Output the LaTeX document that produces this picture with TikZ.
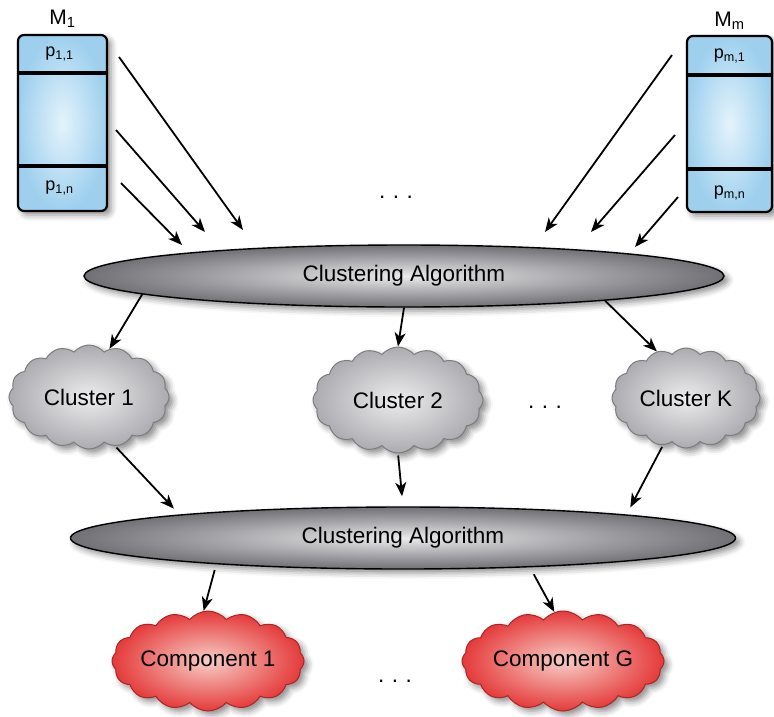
\documentclass[tikz,border=0pt]{standalone}
\usepackage{fontspec}
\setmainfont{Liberation Sans}
\usepackage{xcolor}
\usepackage{tikz}
\usetikzlibrary{arrows.meta,positioning,shapes.geometric,shapes.symbols,shadows.blur,calc}
\definecolor{boxin}{RGB}{228,243,252}
\definecolor{boxout}{RGB}{158,208,238}
\definecolor{algin}{RGB}{234,234,236}
\definecolor{algout}{RGB}{112,112,117}
\definecolor{cloudin}{RGB}{236,236,238}
\definecolor{cloudout}{RGB}{172,172,176}
\definecolor{cloudline}{RGB}{125,125,128}
\definecolor{compin}{RGB}{248,205,198}
\definecolor{compout}{RGB}{228,58,58}
\definecolor{compline}{RGB}{175,35,35}
\tikzset{
  txt/.style={font=\fontsize{22.5}{26}\selectfont},
  soft/.style={blur shadow={shadow xshift=4pt, shadow yshift=-4pt, shadow blur radius=6pt, shadow opacity=45}},
  mbox/.style={draw, line width=2.2pt, rounded corners=6pt, inner color=boxin, outer color=boxout, soft},
  mlbl/.style={font=\fontsize{21}{24}\selectfont, inner sep=1pt},
  plbl/.style={font=\fontsize{18}{21}\selectfont, inner sep=1pt},
  divider/.style={line width=3.4pt},
  algo/.style={ellipse, draw, line width=1.4pt, inner color=algin, outer color=algout, txt, soft},
  clust/.style={cloud, cloud puffs=16, cloud puff arc=100, cloud ignores aspect, draw=cloudline, line width=1pt,
    inner color=cloudin, outer color=cloudout, txt, inner sep=0pt, soft},
  comp/.style={clust, draw=compline, inner color=compin, outer color=compout},
  dots/.style={txt},
  arrow/.style={-{Stealth[length=14pt,width=11pt,inset=4pt]}, line width=1.8pt}
}

\begin{document}
\begin{tikzpicture}[x=1pt, y=-1pt, node distance=4pt]
    \useasboundingbox (0,0) rectangle (774,716);

    \node[mbox, minimum width=89pt, minimum height=176pt] (M1) at (62.5,123) {};
    \node[mbox, minimum width=85pt, minimum height=176pt] (Mm) at (729.5,124) {};
    \draw[divider] ($(M1.north west)+(0,39)$) -- ($(M1.north east)+(0,39)$);
    \draw[divider] ($(M1.south west)+(0,-46)$) -- ($(M1.south east)+(0,-46)$);
    \draw[divider] ($(Mm.north west)+(0,40)$) -- ($(Mm.north east)+(0,40)$);
    \draw[divider] ($(Mm.south west)+(0,-44)$) -- ($(Mm.south east)+(0,-44)$);

    \node[mlbl, above=5pt of M1] (M1lbl) {M\textsubscript{1}};
    \node[mlbl, above=4pt of Mm] (Mmlbl) {M\textsubscript{m}};
    \node[plbl] (p11) at ($(M1.north)+(-3,20)$) {p\textsubscript{1,1}};
    \node[plbl] (p1n) at ($(M1.south)+(-3,-24)$) {p\textsubscript{1,n}};
    \node[plbl] (pm1) at ($(Mm.north)+(0,21)$) {p\textsubscript{m,1}};
    \node[plbl] (pmn) at ($(Mm.south)+(0,-20)$) {p\textsubscript{m,n}};

    \node[algo, minimum width=640pt, minimum height=62pt] (alg1) at (404,276) {Clustering Algorithm};
    \node[dots] (dtop) at (396,197) {.\,\,.\,\,.};

    \node[clust, minimum width=160pt, minimum height=104pt] (cl1) at (89,397) {Cluster 1};
    \node[clust, minimum width=170pt, minimum height=106pt] (cl2) at (398,400) {Cluster 2};
    \node[clust, minimum width=148pt, minimum height=100pt] (clk) at (686,398) {Cluster K};
    \node[dots] (dmid) at (545,407) {.\,\,.\,\,.};

    \node[algo, minimum width=665pt, minimum height=62pt] (alg2) at (403,538) {Clustering Algorithm};

    \node[comp, minimum width=192pt, minimum height=100pt] (cp1) at (208,661) {Component 1};
    \node[comp, minimum width=202pt, minimum height=100pt] (cpg) at (563,661) {Component G};
    \node[dots] (dbot) at (395,681) {.\,\,.\,\,.};

    \coordinate (l1a) at (119,57);  \coordinate (l1b) at (243,230);
    \coordinate (l2a) at (116,130); \coordinate (l2b) at (205,232);
    \coordinate (l3a) at (121,183); \coordinate (l3b) at (182,245);
    \coordinate (r1a) at (672,55);  \coordinate (r1b) at (545,232);
    \coordinate (r2a) at (675,135); \coordinate (r2b) at (591,232);
    \coordinate (r3a) at (678,197); \coordinate (r3b) at (635,247);

    \draw[arrow] (l1a) -- (l1b);
    \draw[arrow] (l2a) -- (l2b);
    \draw[arrow] (l3a) -- (l3b);
    \draw[arrow] (r1a) -- (r1b);
    \draw[arrow] (r2a) -- (r2b);
    \draw[arrow] (r3a) -- (r3b);

    \draw[arrow] (alg1.184.3) -- (cl1.67);
    \draw[arrow] (alg1.south) -- (cl2.north);
    \draw[arrow] (alg1.353.5) -- (clk.122);

    \draw[arrow, shorten <=2pt, shorten >=8pt] (cl1.298) -- (alg2.174);
    \draw[arrow, shorten <=2pt, shorten >=10pt] (cl2.south) -- (alg2.north);
    \draw[arrow, shorten <=2pt, shorten >=8pt] (clk.244) -- (alg2.6.4);

    \draw[arrow, shorten <=6pt] (alg2.188.7) -- (cp1.95);
    \draw[arrow, shorten <=8pt] (alg2.347.7) -- (cpg.100);
  \end{tikzpicture}
\end{document}
